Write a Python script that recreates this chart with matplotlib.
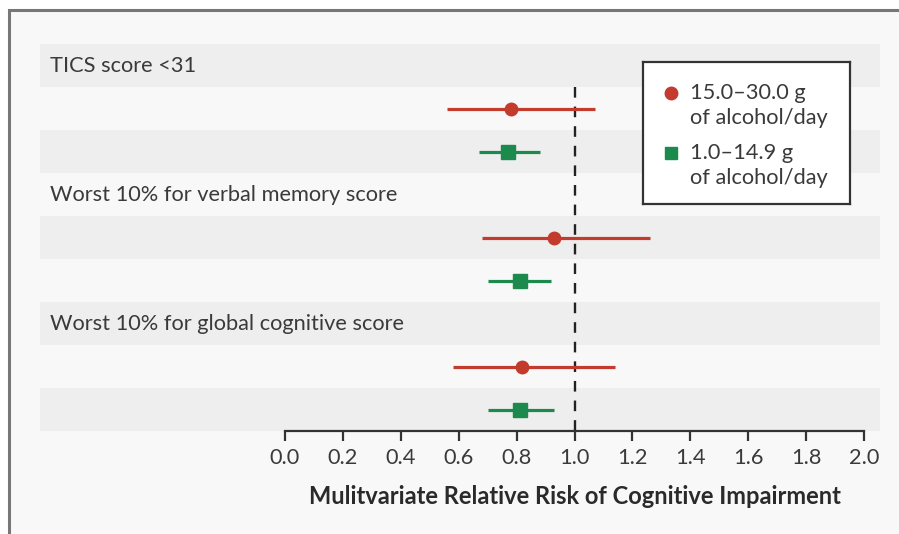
import matplotlib
matplotlib.use("Agg")
import matplotlib.pyplot as plt
from matplotlib.patches import Rectangle
from matplotlib.transforms import blended_transform_factory

# data
group_labels = ["TICS score <31",
                "Worst 10% for verbal memory score",
                "Worst 10% for global cognitive score"]
series_labels = ["15.0\u201330.0 g\nof alcohol/day", "1.0\u201314.9 g\nof alcohol/day"]
high_rr = [0.78, 0.93, 0.82]
high_lo = [0.56, 0.68, 0.58]
high_hi = [1.07, 1.26, 1.14]
low_rr = [0.77, 0.81, 0.81]
low_lo = [0.67, 0.70, 0.70]
low_hi = [0.88, 0.92, 0.93]
xticks = [0.0, 0.2, 0.4, 0.6, 0.8, 1.0, 1.2, 1.4, 1.6, 1.8, 2.0]
xlabel = "Mulitvariate Relative Risk of Cognitive Impairment"

RED = "#c23b2c"
GREEN = "#1c8a4c"
TEXT = "#3a3a3a"
BAND = "#eeeeee"
BG = "#f8f8f8"
FS = 15.7

plt.rcParams["font.family"] = ["Lato", "DejaVu Sans"]

W, H = 899, 534
fig = plt.figure(figsize=(W / 100, H / 100), dpi=100, facecolor="white")

# page frame (left and top edge visible)
fig.add_artist(Rectangle((9 / W, -0.2), 2.0, (H - 10) / H + 0.2,
                         transform=fig.transFigure, facecolor=BG,
                         edgecolor="#777777", linewidth=2.2, zorder=0))

ax = fig.add_axes([40 / W, (H - 431) / H, 840 / W, 387 / H])
ax.set_facecolor("none")
ax.set_xlim(-0.846, 2.055)
ax.set_ylim(9, 0)

for i in range(0, 9, 2):
    ax.axhspan(i, i + 1, color=BAND, lw=0, zorder=0)

ax.plot([1, 1], [1, 9], color="#222222", lw=1.7, dashes=(4.5, 3.8), zorder=1)

tr = blended_transform_factory(ax.transAxes, ax.transData)
for g, label in enumerate(group_labels):
    base = 3 * g
    ax.text(0.012, base + 0.52, label, transform=tr, ha="left", va="center",
            fontsize=FS, color=TEXT)
    ax.errorbar(high_rr[g], base + 1.5,
                xerr=[[high_rr[g] - high_lo[g]], [high_hi[g] - high_rr[g]]],
                fmt="o", color=RED, ms=9, elinewidth=2.3, capsize=0, zorder=3)
    ax.errorbar(low_rr[g], base + 2.5,
                xerr=[[low_rr[g] - low_lo[g]], [low_hi[g] - low_rr[g]]],
                fmt="s", color=GREEN, ms=10, elinewidth=2.3, capsize=0, zorder=3)

for s in ["top", "left", "right"]:
    ax.spines[s].set_visible(False)
ax.spines["bottom"].set_bounds(0, 2)
ax.spines["bottom"].set_color("#333333")
ax.spines["bottom"].set_linewidth(1.6)
ax.set_yticks([])
ax.set_xticks(xticks)
ax.set_xticklabels([f"{t:.1f}" for t in xticks])
ax.tick_params(axis="x", direction="out", length=7.5, width=1.6, color="#333333",
               labelsize=FS, labelcolor=TEXT, pad=4.5)
ax.set_xlabel(xlabel, fontsize=17, fontweight="bold", color="#2a2a2a")
ax.xaxis.set_label_coords((574.5 - 40) / 840, -(485 - 431) / 387)

# legend box
lg = fig.add_axes([643 / W, (H - 204) / H, 207 / W, 142 / H])
lg.set_facecolor("white")
lg.set_xlim(0, 1)
lg.set_ylim(0, 1)
lg.set_xticks([])
lg.set_yticks([])
for s in lg.spines.values():
    s.set_color("#333333")
    s.set_linewidth(1.6)
marks = [("o", RED, 9), ("s", GREEN, 9)]
tops = [0.782, 0.359]
for (m, c, ms), lab, y in zip(marks, series_labels, tops):
    lg.plot([0.135], [y], marker=m, color=c, ms=ms, ls="none")
    first, second = lab.split("\n")
    lg.text(0.227, y, first, ha="left", va="center", fontsize=FS, color=TEXT)
    lg.text(0.227, y - 0.176, second, ha="left", va="center", fontsize=FS, color=TEXT)

fig.savefig("out.png", dpi=100, facecolor="white")
